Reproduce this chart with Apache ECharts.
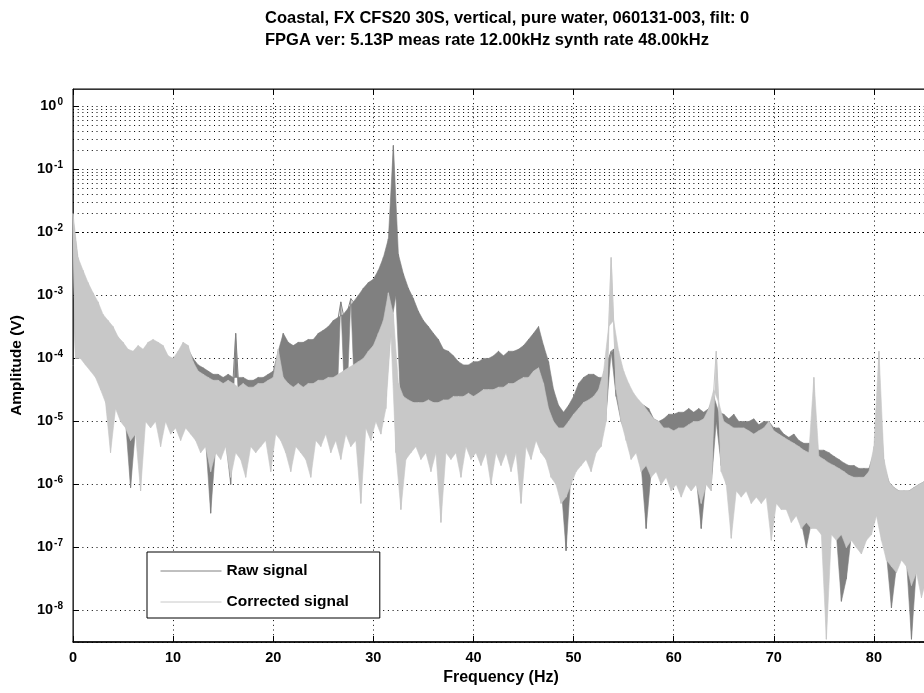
<!DOCTYPE html>
<html>
<head>
<meta charset="utf-8">
<title>Coastal FX CFS20 spectrum</title>
<script src="https://cdn.jsdelivr.net/npm/echarts@6/dist/echarts.min.js"></script>
<style>
    html, body { margin: 0; padding: 0; background: #fff; overflow: hidden; }
    #chart { width: 930px; height: 693px; }
</style>
</head>
<body>
<div id="chart"></div>
<script>
// spectrum, one value every 0.25 Hz starting at 0 Hz
// (each row = 2 Hz; values alternate upper / lower edge of the noise band)
var freqStep = 0.25;

var rawAmp = [
    1.6e-2, 1.3e-4, 3.5e-3, 1.1e-4, 2.2e-3, 1e-4, 1.4e-3, 7.9e-5,      // 0
    1e-3, 6.3e-5, 7.1e-4, 4.0e-5, 4.5e-4, 2.5e-5, 3.5e-4, 5.0e-6,
    2.8e-4, 2.0e-5, 2.0e-4, 1.3e-5, 1.6e-4, 1e-5, 1.3e-4, 8.9e-7,
    1.1e-4, 7.9e-6, 1.4e-4, 2.5e-6, 1.3e-4, 1.3e-5, 1.6e-4, 1e-5,
    1.8e-4, 1.3e-5, 1.6e-4, 5.0e-6, 1.4e-4, 1.3e-5, 1e-4, 7.9e-6,
    1e-4, 1e-5, 1.1e-4, 6.3e-6, 1.6e-4, 1e-5, 1.4e-4, 7.9e-6,          // 10
    1e-4, 6.3e-6, 7.9e-5, 4.0e-6, 7.1e-5, 5.0e-6, 6.3e-5, 3.5e-7,
    5.6e-5, 4.0e-6, 5.6e-5, 3.2e-6, 5.0e-5, 5.0e-6, 5.6e-5, 1e-6,
    5.0e-5, 2.5e-4, 5.0e-5, 3.2e-6, 5.0e-5, 2.5e-6, 4.5e-5, 5.0e-6,
    4.5e-5, 4.0e-6, 5.0e-5, 5.0e-6, 5.0e-5, 6.3e-6, 5.6e-5, 3.2e-6,
    6.3e-5, 7.9e-6, 1.3e-4, 6.3e-6, 2.5e-4, 5.0e-6, 1.8e-4, 3.2e-6,    // 20
    1.6e-4, 5.0e-6, 1.8e-4, 4.0e-6, 1.8e-4, 4.0e-6, 2.0e-4, 2.5e-6,
    2.0e-4, 6.3e-6, 2.5e-4, 5.0e-6, 2.8e-4, 7.9e-6, 3.2e-4, 5.0e-6,
    4.0e-4, 6.3e-6, 4.5e-4, 7.9e-4, 5.0e-4, 7.9e-6, 6.3e-4, 8.9e-4,
    7.9e-4, 7.9e-6, 1e-3, 3.2e-6, 1.3e-3, 1e-5, 1.6e-3, 7.9e-6,
    1.8e-3, 1.3e-5, 2.5e-3, 1e-5, 4.0e-3, 2.5e-5, 7.9e-3, 3.2e-4,      // 30
    2.4e-1, 1e-3, 4.5e-3, 1.6e-5, 2.2e-3, 6.3e-6, 1.3e-3, 5.0e-6,
    8.9e-4, 6.3e-6, 5.6e-4, 4.0e-6, 4.0e-4, 5.0e-6, 3.2e-4, 3.2e-6,
    2.5e-4, 5.0e-6, 2.0e-4, 2.5e-6, 1.4e-4, 5.0e-6, 1.3e-4, 4.0e-6,
    1.1e-4, 5.0e-6, 8.9e-5, 2.5e-6, 7.9e-5, 6.3e-6, 7.9e-5, 4.0e-6,
    8.9e-5, 5.0e-6, 8.9e-5, 3.2e-6, 1e-4, 5.0e-6, 1e-4, 2.5e-6,        // 40
    1.1e-4, 5.0e-6, 1.3e-4, 3.2e-6, 1.1e-4, 5.0e-6, 1.3e-4, 3.2e-6,
    1.3e-4, 5.0e-6, 1.4e-4, 2.5e-6, 1.6e-4, 6.3e-6, 2.0e-4, 4.0e-6,
    2.5e-4, 7.9e-6, 3.2e-4, 5.0e-6, 1.6e-4, 4.0e-6, 8.9e-5, 2.0e-6,
    3.2e-5, 1.6e-6, 1.8e-5, 1e-6, 1.4e-5, 8.9e-8, 1.8e-5, 1.6e-6,
    2.5e-5, 2.5e-6, 4.0e-5, 3.2e-6, 5.0e-5, 4.0e-6, 5.6e-5, 2.5e-6,    // 50
    5.6e-5, 5.0e-6, 5.0e-5, 6.3e-6, 5.0e-5, 1.3e-5, 1e-4, 1.3e-4,
    1.4e-4, 2.5e-5, 6.3e-5, 1e-5, 4.0e-5, 6.3e-6, 2.8e-5, 3.2e-6,
    2.5e-5, 4.0e-6, 2.0e-5, 2.0e-6, 1.8e-5, 2.0e-7, 1.6e-5, 1.6e-6,
    1.1e-5, 2.0e-6, 1e-5, 1.3e-6, 1.1e-5, 1.6e-6, 1.3e-5, 1e-6,
    1.3e-5, 1.3e-6, 1.4e-5, 7.9e-7, 1.4e-5, 1.3e-6, 1.6e-5, 1e-6,      // 60
    1.4e-5, 1.3e-6, 1.6e-5, 2.0e-7, 1.4e-5, 1.3e-6, 1.6e-5, 1e-6,
    2.5e-5, 1e-5, 1.4e-5, 2.0e-6, 1.3e-5, 1.3e-6, 1.1e-5, 7.9e-7,
    1.3e-5, 1e-6, 1e-5, 7.9e-7, 1e-5, 1e-6, 1e-5, 6.3e-7,
    1.1e-5, 7.9e-7, 8.9e-6, 6.3e-7, 1e-5, 7.9e-7, 1e-5, 5.0e-7,
    7.9e-6, 6.3e-7, 7.9e-6, 5.0e-7, 6.3e-6, 5.0e-7, 5.6e-6, 3.2e-7,    // 70
    6.3e-6, 4.0e-7, 5.0e-6, 2.5e-7, 4.5e-6, 1e-7, 4.5e-6, 2.5e-7,
    4.0e-6, 2.5e-7, 3.5e-6, 2.0e-7, 3.5e-6, 1.6e-7, 3.2e-6, 2.0e-7,
    2.8e-6, 1.6e-7, 2.5e-6, 1.4e-8, 2.2e-6, 3.2e-8, 2.0e-6, 1.6e-7,
    2.0e-6, 1.3e-7, 1.8e-6, 1e-7, 1.8e-6, 1.6e-7, 1.8e-6, 2.0e-7,
    3.2e-6, 4.0e-7, 3.2e-5, 1.6e-7, 2.0e-6, 7.9e-8, 1.1e-6, 1.1e-8,    // 80
    8.9e-7, 5.0e-8, 7.9e-7, 7.9e-8, 7.9e-7, 6.3e-8, 7.9e-7, 3.5e-9,
    8.9e-7, 5.0e-8, 1e-6, 2.5e-8, 1.1e-6, 4.0e-8, 1e-6
];

var corrAmp = [
    2.0e-2, 1e-4, 4.0e-3, 1e-4, 2.5e-3, 7.9e-5, 1.6e-3, 6.3e-5,        // 0
    1.1e-3, 5.0e-5, 7.9e-4, 3.2e-5, 5.0e-4, 2.0e-5, 4.0e-4, 3.2e-6,
    3.2e-4, 1.6e-5, 2.2e-4, 1e-5, 1.8e-4, 7.9e-6, 1.4e-4, 5.0e-6,
    1.3e-4, 6.3e-6, 1.6e-4, 7.9e-7, 1.4e-4, 1e-5, 1.8e-4, 7.9e-6,
    2.0e-4, 1e-5, 1.8e-4, 4.0e-6, 1.6e-4, 1e-5, 1.1e-4, 6.3e-6,
    1e-4, 7.9e-6, 1.3e-4, 5.0e-6, 1.8e-4, 7.9e-6, 1.6e-4, 6.3e-6,      // 10
    8.9e-5, 5.0e-6, 6.3e-5, 3.2e-6, 5.6e-5, 4.0e-6, 5.0e-5, 1.6e-6,
    4.5e-5, 3.2e-6, 4.5e-5, 2.5e-6, 4.0e-5, 4.0e-6, 4.5e-5, 1.3e-6,
    4.0e-5, 3.2e-6, 3.5e-5, 2.5e-6, 4.0e-5, 1.3e-6, 3.5e-5, 4.0e-6,
    3.5e-5, 3.2e-6, 4.0e-5, 4.0e-6, 4.0e-5, 5.0e-6, 4.5e-5, 1.6e-6,
    5.0e-5, 6.3e-6, 1.4e-4, 5.0e-6, 5.0e-5, 3.2e-6, 4.0e-5, 1.6e-6,    // 20
    3.5e-5, 4.0e-6, 4.0e-5, 3.2e-6, 3.5e-5, 2.5e-6, 4.0e-5, 1.3e-6,
    4.0e-5, 5.0e-6, 4.5e-5, 4.0e-6, 4.5e-5, 6.3e-6, 5.0e-5, 3.2e-6,
    5.0e-5, 5.0e-6, 5.6e-5, 2.5e-6, 6.3e-5, 6.3e-6, 7.1e-5, 4.0e-6,
    7.9e-5, 5.0e-6, 8.9e-5, 5.0e-7, 1e-4, 7.9e-6, 1.3e-4, 5.0e-6,
    1.6e-4, 1e-5, 2.5e-4, 6.3e-6, 4.0e-4, 1.6e-5, 1.1e-3, 2.5e-4,      // 30
    5.0e-4, 3.2e-6, 4.0e-5, 4.0e-7, 2.5e-5, 2.5e-6, 2.2e-5, 3.2e-6,
    2.0e-5, 4.0e-6, 2.0e-5, 2.5e-6, 2.0e-5, 3.2e-6, 2.2e-5, 1.6e-6,
    2.0e-5, 3.2e-6, 2.0e-5, 2.5e-7, 2.2e-5, 3.2e-6, 2.2e-5, 2.5e-6,
    2.5e-5, 3.2e-6, 2.5e-5, 1.3e-6, 2.5e-5, 4.0e-6, 2.8e-5, 2.5e-6,
    2.5e-5, 3.2e-6, 2.8e-5, 2.0e-6, 3.2e-5, 3.2e-6, 3.2e-5, 1e-6,      // 40
    3.2e-5, 3.2e-6, 3.5e-5, 2.0e-6, 3.5e-5, 3.2e-6, 4.0e-5, 1.6e-6,
    4.0e-5, 3.2e-6, 4.5e-5, 5.0e-7, 5.0e-5, 4.0e-6, 5.0e-5, 2.5e-6,
    6.3e-5, 5.0e-6, 7.1e-5, 3.2e-6, 4.0e-5, 2.5e-6, 1.6e-5, 1.3e-6,
    1e-5, 1e-6, 7.9e-6, 5.0e-7, 7.9e-6, 6.3e-7, 1e-5, 1e-6,
    1.3e-5, 1.6e-6, 1.6e-5, 2.0e-6, 2.0e-5, 2.5e-6, 2.2e-5, 1.6e-6,    // 50
    2.5e-5, 3.2e-6, 3.2e-5, 4.0e-6, 6.3e-5, 1e-5, 3.2e-4, 4.0e-3,
    4.0e-4, 3.2e-5, 1.3e-4, 1e-5, 6.3e-5, 5.0e-6, 4.0e-5, 2.5e-6,
    2.8e-5, 3.2e-6, 2.2e-5, 1.6e-6, 1.8e-5, 2.0e-6, 1.4e-5, 1.3e-6,
    1.1e-5, 1.6e-6, 1e-5, 1e-6, 7.9e-6, 1.3e-6, 7.9e-6, 7.9e-7,
    7.1e-6, 1e-6, 7.9e-6, 6.3e-7, 7.9e-6, 1e-6, 8.9e-6, 7.9e-7,        // 60
    1e-5, 1e-6, 1e-5, 5.0e-7, 1.1e-5, 1e-6, 1.6e-5, 7.9e-7,
    3.2e-5, 1.3e-4, 2.0e-5, 1.6e-6, 1e-5, 1e-6, 8.9e-6, 1.4e-7,
    7.9e-6, 7.9e-7, 7.9e-6, 6.3e-7, 7.9e-6, 7.9e-7, 7.1e-6, 5.0e-7,
    6.3e-6, 6.3e-7, 7.1e-6, 5.0e-7, 7.9e-6, 6.3e-7, 1e-5, 1.3e-7,
    7.1e-6, 5.0e-7, 6.3e-6, 4.0e-7, 5.6e-6, 4.0e-7, 5.0e-6, 2.5e-7,    // 70
    4.5e-6, 3.2e-7, 4.0e-6, 2.0e-7, 3.5e-6, 2.5e-7, 3.2e-6, 2.0e-7,
    5.0e-5, 2.0e-7, 2.8e-6, 1.6e-7, 2.5e-6, 3.5e-9, 2.2e-6, 1.6e-7,
    2.0e-6, 1.3e-7, 1.8e-6, 1.6e-7, 1.6e-6, 1e-7, 1.4e-6, 1.3e-7,
    1.3e-6, 1e-7, 1.3e-6, 7.9e-8, 1.3e-6, 1.3e-7, 1.6e-6, 1.6e-7,
    4.0e-6, 3.2e-7, 1.3e-4, 1.3e-7, 2.5e-6, 6.3e-8, 1.1e-6, 5.0e-8,    // 80
    8.9e-7, 4.0e-8, 7.9e-7, 6.3e-8, 7.9e-7, 5.0e-8, 7.9e-7, 2.5e-8,
    8.9e-7, 4.0e-8, 1e-6, 1.6e-8, 1.1e-6, 3.2e-8, 1e-6
];

var seriesNames = ['Raw signal', 'Corrected signal'];
var titleLines = [
    'Coastal, FX CFS20 30S, vertical, pure water, 060131-003, filt: 0',
    'FPGA ver: 5.13P meas rate 12.00kHz synth rate 48.00kHz'
];

// axis limits
var xMax = 85.5;
var yMin = Math.pow(10, -8.5);
var yMax = Math.pow(10, 0.276);

window.onload = function () {
    var chart = echarts.init(document.getElementById('chart'));

    function toPoints(arr) {
        return arr.map(function (v, i) { return [i * freqStep, v]; });
    }

    // filled noise band: upper edge through the even samples, lower edge back through the odd ones
    function bandSeries(arr, color, z) {
        return {
            type: 'custom',
            silent: true,
            z: z,
            data: [[0, arr[0]]],
            renderItem: function (params, api) {
                var upper = [], lower = [];
                arr.forEach(function (v, i) {
                    var pt = api.coord([i * freqStep, v]);
                    if (i % 2 === 0) upper.push(pt); else lower.push(pt);
                });
                return {
                    type: 'polygon',
                    shape: { points: upper.concat(lower.reverse()) },
                    style: { fill: color, stroke: color, lineWidth: 0.6 }
                };
            }
        };
    }

    // minor log gridlines (2..9 x 10^n)
    var minorLines = [];
    for (var e = -9; e <= 0; e++) {
        for (var m = 2; m <= 9; m++) {
            var v = m * Math.pow(10, e);
            if (v > yMin && v < yMax) minorLines.push({ yAxis: v });
        }
    }

    var font = 'Liberation Sans, Arial, sans-serif';
    var dotted = { color: '#000', width: 1, type: [1, 3.7] };
    var rawColor = '#808080';
    var corrColor = '#c8c8c8';

    var option = {
        animation: false,
        backgroundColor: '#fff',
        title: {
            text: titleLines.join('\n'),
            left: 265,
            top: 7,
            padding: 0,
            textStyle: { fontFamily: font, fontSize: 16.5, fontWeight: 'bold', color: '#000', lineHeight: 22 }
        },
        legend: {
            data: seriesNames,
            orient: 'vertical',
            left: 147,
            top: 552,
            itemWidth: 61,
            itemHeight: 14,
            itemGap: 15,
            padding: [11, 31, 8, 13],
            backgroundColor: '#fff',
            borderColor: '#000',
            borderWidth: 1,
            borderRadius: 0,
            z: 10,
            itemStyle: { opacity: 0 },
            lineStyle: { width: 1, opacity: 1 },
            textStyle: { fontFamily: font, fontSize: 15.5, fontWeight: 'bold', color: '#000' }
        },
        grid: {
            left: 73,
            right: 1,
            top: 89,
            bottom: 51,
            show: true,
            borderColor: '#000',
            borderWidth: 1,
            backgroundColor: 'transparent'
        },
        xAxis: [
            {
                type: 'value',
                min: 0,
                max: xMax,
                interval: 10,
                name: 'Frequency (Hz)',
                nameLocation: 'middle',
                nameGap: 26,
                nameTextStyle: { fontFamily: font, fontSize: 16, fontWeight: 'bold', color: '#000' },
                axisLine: { show: true, lineStyle: { color: '#000', width: 1.5 } },
                axisTick: { show: true, inside: true, length: 6, lineStyle: { color: '#000' } },
                axisLabel: {
                    margin: 8,
                    fontFamily: font, fontSize: 14.5, fontWeight: 'bold', color: '#000',
                    showMaxLabel: false
                },
                splitLine: { show: true, lineStyle: dotted }
            },
            {
                type: 'value',
                position: 'top',
                min: 0,
                max: xMax,
                interval: 10,
                axisLine: { show: true, lineStyle: { color: '#333', width: 1 } },
                axisTick: { show: true, inside: true, length: 6, lineStyle: { color: '#000' } },
                axisLabel: { show: false },
                splitLine: { show: false }
            }
        ],
        yAxis: {
            type: 'log',
            logBase: 10,
            min: yMin,
            max: yMax,
            name: 'Amplitude (V)',
            nameLocation: 'middle',
            nameGap: 48,
            nameTextStyle: { fontFamily: font, fontSize: 15.5, fontWeight: 'bold', color: '#000' },
            axisLine: { show: true, lineStyle: { color: '#333', width: 1 } },
            axisTick: { show: true, inside: true, length: 6, lineStyle: { color: '#000' } },
            axisLabel: {
                margin: 10,
                showMinLabel: false,
                showMaxLabel: false,
                formatter: function (val) {
                    var ex = Math.round(Math.log10(val));
                    return '{b|10}{e|' + ex + '}';
                },
                rich: {
                    b: { fontFamily: font, fontSize: 14.5, fontWeight: 'bold', color: '#000' },
                    e: { fontFamily: font, fontSize: 10, fontWeight: 'bold', color: '#000', padding: [0, 0, 9, 1] }
                }
            },
            splitLine: { show: true, lineStyle: dotted }
        },
        series: [
            {
                name: 'grid',
                type: 'line',
                data: [],
                silent: true,
                z: 1,
                markLine: {
                    silent: true,
                    z: 1,
                    symbol: ['none', 'none'],
                    label: { show: false },
                    lineStyle: dotted,
                    data: minorLines
                }
            },
            bandSeries(rawAmp, rawColor, 2),
            {
                name: seriesNames[0],
                type: 'line',
                z: 3,
                data: toPoints(rawAmp),
                symbol: 'none',
                color: rawColor,
                lineStyle: { color: rawColor, width: 1 }
            },
            bandSeries(corrAmp, corrColor, 4),
            {
                name: seriesNames[1],
                type: 'line',
                z: 5,
                data: toPoints(corrAmp),
                symbol: 'none',
                color: corrColor,
                lineStyle: { color: corrColor, width: 1 }
            }
        ]
    };

    chart.setOption(option);
};
</script>
</body>
</html>
